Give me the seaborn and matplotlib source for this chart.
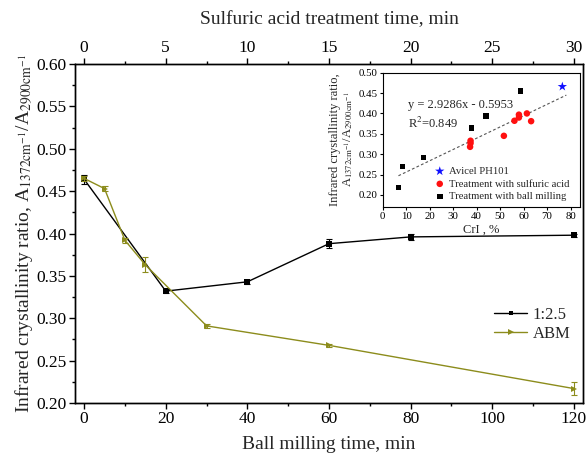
import numpy as np
import pandas as pd
import seaborn as sns
import matplotlib.pyplot as plt
from matplotlib.ticker import MultipleLocator

# main plot data (bottom axis: ball milling time, min)
acid_x = [0, 20, 40, 60, 80, 120]          # = 0, 5, 10, 15, 20, 30 min of acid treatment
acid_y = [0.464, 0.332, 0.343, 0.388, 0.396, 0.398]
acid_err = [0.005, 0.002, 0.002, 0.005, 0.004, 0.002]

abm_x = [0, 5, 10, 15, 30, 60, 120]
abm_y = [0.465, 0.453, 0.392, 0.363, 0.291, 0.268, 0.217]
abm_err = [0.003, 0.003, 0.003, 0.009, 0.002, 0.002, 0.008]

# inset data (CrI vs ratio)
avicel_x = [76.5]
avicel_y = [0.466]
sulf_x = [37.4, 37.4, 37.2, 51.6, 56.1, 58.0, 58.0, 61.4, 63.2]
sulf_y = [0.333, 0.327, 0.318, 0.345, 0.382, 0.397, 0.390, 0.400, 0.381]
ball_x = [6.7, 8.4, 17.3, 37.9, 43.9, 58.7]
ball_y = [0.218, 0.270, 0.292, 0.364, 0.394, 0.455]
trend_x = [6.7, 78.2]
trend_y = [0.247, 0.445]

olive = "#8c8c1c"

sns.set_theme(style="ticks")
plt.rcParams["font.family"] = ["Liberation Serif", "DejaVu Serif"]
plt.rcParams["mathtext.fontset"] = "stix"
plt.rcParams["axes.linewidth"] = 1.0
plt.rcParams["axes.edgecolor"] = "black"
plt.rcParams["xtick.color"] = "black"
plt.rcParams["ytick.color"] = "black"

fig = plt.figure(figsize=(5.87, 4.55), dpi=100)
ax = fig.add_axes([0.128, 0.1143, 0.865, 0.745])

df_acid = pd.DataFrame({"t": acid_x, "r": acid_y})
df_abm = pd.DataFrame({"t": abm_x, "r": abm_y})

sns.lineplot(data=df_acid, x="t", y="r", ax=ax, color="black", lw=1.0,
             marker="s", markersize=4, markeredgewidth=0, label="1:2.5")
sns.lineplot(data=df_abm, x="t", y="r", ax=ax, color=olive, lw=1.0,
             marker=">", markersize=5, markeredgewidth=0, label="ABM")
ax.errorbar(acid_x, acid_y, yerr=acid_err, fmt="none", ecolor="black",
            elinewidth=0.8, capsize=2, capthick=0.8)
ax.errorbar(abm_x, abm_y, yerr=abm_err, fmt="none", ecolor=olive,
            elinewidth=0.8, capsize=2, capthick=0.8)

ax.set_xlim(-2.2, 122.2)
ax.set_ylim(0.20, 0.60)
ax.xaxis.set_major_locator(MultipleLocator(20))
ax.xaxis.set_minor_locator(MultipleLocator(10))
ax.yaxis.set_major_locator(MultipleLocator(0.05))
ax.yaxis.set_minor_locator(MultipleLocator(0.025))
ax.yaxis.set_major_formatter(plt.FuncFormatter(lambda v, p: f"{v:.2f}"))
ax.tick_params(which="major", direction="out", length=4, width=1, labelsize=12.5, pad=2)
ax.tick_params(which="minor", direction="out", length=2.5, width=1)
ax.set_xlabel("Ball milling time, min", fontsize=14, labelpad=6)
ax.set_ylabel(r"Infrared crystallinity ratio, A$_{1372\mathrm{cm}^{-1}}$/A$_{2900\mathrm{cm}^{-1}}$",
              fontsize=14, labelpad=1)
for s in ax.spines.values():
    s.set_visible(True)

ax.legend(loc="upper left", bbox_to_anchor=(0.825, 0.283), frameon=False,
          fontsize=12, handlelength=2.0, handletextpad=0.3, labelspacing=0.15,
          borderpad=0, borderaxespad=0, markerscale=0.8)

ax2 = ax.twiny()
ax2.set_xlim(-0.55, 30.55)
ax2.xaxis.set_major_locator(MultipleLocator(5))
ax2.xaxis.set_minor_locator(MultipleLocator(2.5))
ax2.tick_params(which="major", direction="out", length=4, width=1, labelsize=12.5, pad=2)
ax2.tick_params(which="minor", direction="out", length=2.5, width=1)
ax2.set_xlabel("Sulfuric acid treatment time, min", fontsize=14, labelpad=11)

# inset
axi = fig.add_axes([0.652, 0.5457, 0.336, 0.2945])
axi.plot(trend_x, trend_y, ls=(0, (2.5, 2)), color="#555555", lw=0.8)
sns.scatterplot(x=avicel_x, y=avicel_y, ax=axi, marker="*", s=50, color="#1010ff",
                edgecolor="none", label="Avicel PH101", zorder=3)
sns.scatterplot(x=sulf_x, y=sulf_y, ax=axi, marker="o", s=22, color="#ff1010",
                edgecolor="none", label="Treatment with sulfuric acid", zorder=3)
sns.scatterplot(x=ball_x, y=ball_y, ax=axi, marker="s", s=16, color="black",
                edgecolor="none", label="Treatment with ball milling", zorder=3)
axi.set_xlim(0, 84)
axi.set_ylim(0.171, 0.50)
axi.xaxis.set_major_locator(MultipleLocator(10))
axi.yaxis.set_major_locator(MultipleLocator(0.05))
axi.yaxis.set_major_formatter(plt.FuncFormatter(lambda v, p: f"{v:.2f}"))
axi.tick_params(which="major", direction="out", length=2.5, width=0.8, labelsize=7.8, pad=1.5)
for s in axi.spines.values():
    s.set_linewidth(0.8)
axi.set_xlabel("CrI , %", fontsize=9, labelpad=2)
axi.set_ylabel("Infrared crystallinity ratio,\n"
               r"A$_{1372\mathrm{cm}^{-1}}$/A$_{2900\mathrm{cm}^{-1}}$",
               fontsize=9, labelpad=2, linespacing=1.1)
axi.text(10.7, 0.421, "y = 2.9286x - 0.5953", fontsize=9, va="center")
axi.text(10.7, 0.376, r"R$^2$=0.849", fontsize=9, va="center")
axi.legend(loc="lower left", bbox_to_anchor=(0.262, 0.04), frameon=False,
           fontsize=7.7, handlelength=1.0, handletextpad=0.4, labelspacing=0.3,
           borderpad=0, borderaxespad=0)

fig.savefig("out.png", dpi=100)
